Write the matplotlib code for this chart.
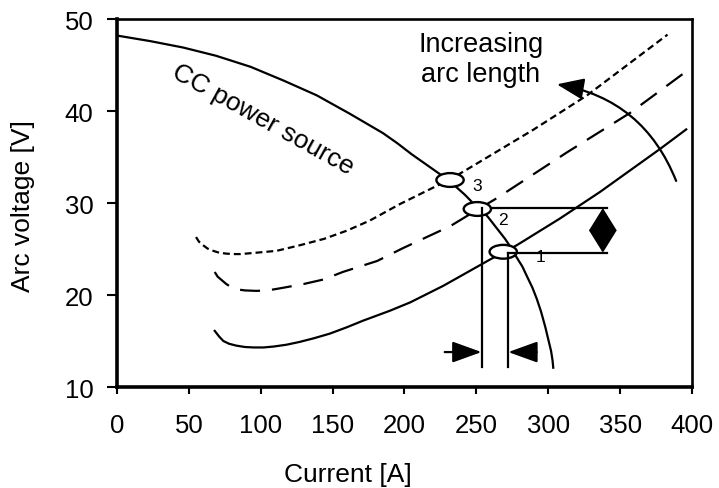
import matplotlib
matplotlib.use("Agg")
import matplotlib.pyplot as plt
from matplotlib.patches import Ellipse, FancyArrowPatch

plt.rcParams["font.family"] = ["Liberation Sans", "DejaVu Sans"]

# CC power source characteristic (current [A], voltage [V])
cc_current = [0, 23, 46, 69, 93, 116, 139, 162, 185, 195, 205, 215, 225,
              231, 237, 242, 247, 253, 258, 262, 266, 270, 273, 278, 282,
              285, 289, 292, 295, 298, 300, 302, 303, 303.5]
cc_voltage = [48.2, 47.6, 46.9, 46.0, 44.8, 43.3, 41.7, 39.7, 37.6, 36.5,
              35.3, 34.2, 33.1, 32.4, 31.6, 30.9, 30.1, 29.3, 28.5, 27.7,
              26.9, 26.1, 25.4, 24.1, 23.1, 22.1, 20.8, 19.6, 18.2, 16.5,
              15.2, 13.9, 12.9, 12.1]

# arc characteristics, short -> long arc
arc1_current = [68, 71, 74, 78, 83, 89, 95, 102, 109, 118, 127, 137, 148,
                160, 171, 190, 204, 227, 260, 278, 308, 336, 378, 396]
arc1_voltage = [16.1, 15.5, 15.0, 14.7, 14.5, 14.35, 14.3, 14.3, 14.4,
                14.6, 14.9, 15.3, 15.8, 16.5, 17.2, 18.3, 19.2, 21.0, 23.9,
                25.4, 28.3, 31.2, 35.9, 38.0]

arc2_current = [68, 70, 73, 76, 80, 84, 89, 97, 105, 116, 130, 144, 157,
                169, 181, 199, 232, 251, 264, 313, 357, 396]
arc2_voltage = [22.5, 22.0, 21.6, 21.2, 20.8, 20.6, 20.5, 20.45, 20.5,
                20.8, 21.2, 21.7, 22.5, 23.1, 23.7, 25.1, 27.5, 29.3, 30.5,
                35.5, 39.8, 44.3]

arc3_current = [55, 57, 60, 63, 67, 71, 76, 81, 86, 97, 111, 127, 144, 160,
                176, 197, 232, 243, 290, 327, 383]
arc3_voltage = [26.3, 25.8, 25.4, 25.05, 24.8, 24.6, 24.5, 24.45, 24.45,
                24.6, 24.8, 25.4, 26.1, 27.0, 28.1, 29.9, 32.6, 33.6, 38.0,
                41.7, 48.3]

# operating points
op_labels = ["1", "2", "3"]
op_current = [268.7, 250.7, 231.7]
op_voltage = [24.7, 29.35, 32.5]
label_current = [294.3, 268.5, 250.4]
label_voltage = [24.24, 28.26, 31.85]

x_ticks = [0, 50, 100, 150, 200, 250, 300, 350, 400]
y_ticks = [10, 20, 30, 40, 50]

fig = plt.figure(figsize=(7.19, 4.89), dpi=100)
ax = fig.add_axes([0.1627, 0.2065, 0.7997, 0.7526])

lw = 1.6
ax.plot(cc_current, cc_voltage, color="black", lw=lw, zorder=2)
ax.plot(arc1_current, arc1_voltage, color="black", lw=lw, zorder=2)
ax.plot(arc2_current, arc2_voltage, color="black", lw=lw, zorder=2,
        dashes=(9.0, 5.4))
ax.plot(arc3_current, arc3_voltage, color="black", lw=lw, zorder=2,
        dashes=(3.1, 1.8))

for x, y in zip(op_current, op_voltage):
    ax.add_patch(Ellipse((x, y), 19, 1.5, facecolor="white",
                         edgecolor="black", lw=1.7, zorder=3))

for lab, x, y in zip(op_labels, label_current, label_voltage):
    ax.text(x, y, lab, fontsize=12.5, ha="center", va="center", zorder=5)

# projection lines from points 1 and 2
v2, v1 = 29.45, 24.6
i2, i1 = 253.6, 272.2
ax.plot([i2, i2], [v2, 12.2], color="black", lw=lw, zorder=4)
ax.plot([i1, i1], [v1, 12.2], color="black", lw=lw, zorder=4)
ax.plot([260.2, 340.6], [v2, v2], color="black", lw=lw, zorder=4)
ax.plot([i1, 340.6], [v1, v1], color="black", lw=lw, zorder=4)

# current change arrows
hstyle = "-|>,head_length=1.8,head_width=0.65"
ax.annotate("", xy=(i2, 13.8), xytext=(228, 13.8),
            arrowprops=dict(arrowstyle=hstyle, mutation_scale=10, lw=lw,
                            color="black", shrinkA=0, shrinkB=0), zorder=4)
ax.annotate("", xy=(i1, 13.8), xytext=(292, 13.8),
            arrowprops=dict(arrowstyle=hstyle, mutation_scale=10, lw=lw,
                            color="black", shrinkA=0, shrinkB=0), zorder=4)

# voltage change double arrow
vmid = (v1 + v2) / 2
vstyle = "-|>,head_length=1.45,head_width=0.9"
for tip in (v2, v1):
    ax.annotate("", xy=(338, tip), xytext=(338, vmid),
                arrowprops=dict(arrowstyle=vstyle, mutation_scale=10, lw=lw,
                                color="black", shrinkA=0, shrinkB=0),
                zorder=4)

# curved arrow: increasing arc length
arc_arrow = FancyArrowPatch((389, 32.4), (306, 42.9),
                            connectionstyle="arc3,rad=0.28",
                            arrowstyle="-|>,head_length=1.65,head_width=0.65",
                            mutation_scale=10, lw=lw, color="black",
                            shrinkA=0, shrinkB=0, zorder=4)
ax.add_patch(arc_arrow)

ax.text(253, 46.55, "Increasing", fontsize=19.5, ha="center", va="baseline")
ax.text(253, 43.3, "arc length", fontsize=19.5, ha="center", va="baseline")
ax.text(101.6, 39.1, "CC power source", fontsize=19, ha="center",
        va="center", rotation=-29, rotation_mode="anchor")

ax.set_xlim(0, 400)
ax.set_ylim(10, 50)
ax.set_xticks(x_ticks)
ax.set_yticks(y_ticks)
ax.tick_params(axis="x", direction="out", length=5, width=1.5,
               labelsize=18.5, pad=14)
ax.tick_params(axis="y", direction="out", length=7, width=1.5,
               labelsize=18.5, pad=10)
for side in ("left", "bottom"):
    ax.spines[side].set_linewidth(2.6)
for side in ("top", "right"):
    ax.spines[side].set_linewidth(1.9)

fig.text(348 / 719, 1 - 475 / 489, "Current [A]", fontsize=19,
         ha="center", va="center")
fig.text(23 / 719, 1 - 206 / 489, "Arc voltage [V]", fontsize=19,
         ha="center", va="center", rotation=90)

fig.savefig("out.png", dpi=100)
